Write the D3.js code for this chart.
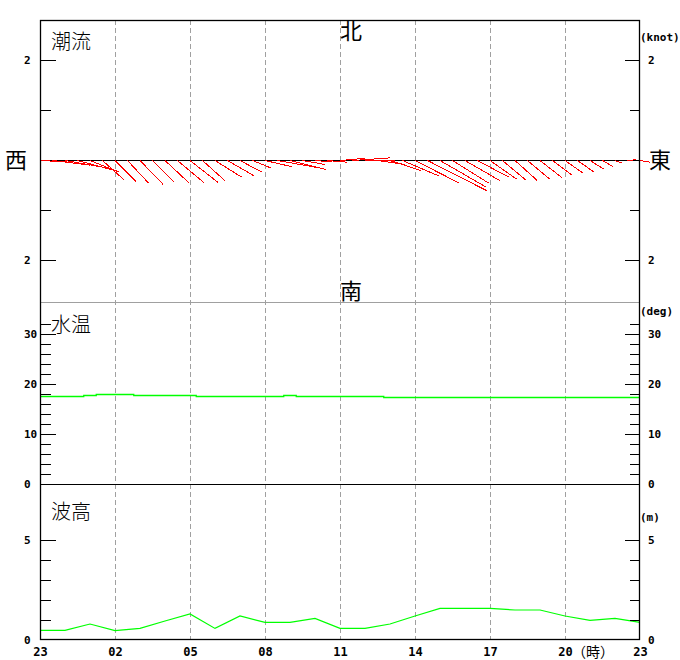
<!DOCTYPE html>
<html><head><meta charset="utf-8">
<script src="https://cdn.jsdelivr.net/npm/d3@7"></script>
<style>
body{margin:0;background:#fff;}
svg{display:block;}
.num{font-family:"DejaVu Sans Mono",monospace;font-weight:bold;font-size:11px;fill:#000;}
.jp{font-family:"Noto Sans CJK JP",sans-serif;fill:#000;}
</style></head>
<body>
<script>
// ---- data ----
const hourLabels = ["23","02","05","08","11","14","17","20","23"];
// current, every 30 min from 23:00 (direction flowing toward, deg true; speed knots)
const curDir = [93,97,100,105,112,132,135,137,136,135,133,130,128,132,122,120,118,112,103,100,104,100,95,95,85,86,90,98,108,113,117,117,120,122,120,118,125,130,132,130,128,127,125,125,122,120,110,85,100];
const curSpeed = [0.55,0.75,0.85,0.85,0.6,0.58,0.6,0.62,0.66,0.62,0.65,0.7,0.72,0.62,0.62,0.62,0.5,0.4,0.55,0.8,0.75,0.45,0.35,0.4,0.5,0.75,0.6,0.55,0.65,0.8,1.0,1.35,1.05,0.85,0.8,0.7,0.65,0.6,0.6,0.58,0.55,0.5,0.45,0.4,0.32,0.25,0.15,0.18,0.2];
// water temperature, every 30 min (deg C)
const waterTemp = [17.5,17.5,17.5,17.5,17.7,17.9,17.9,17.9,17.7,17.7,17.7,17.7,17.7,17.5,17.5,17.5,17.5,17.5,17.5,17.5,17.7,17.5,17.5,17.5,17.5,17.5,17.5,17.5,17.3,17.3,17.3,17.3,17.3,17.3,17.3,17.3,17.3,17.3,17.3,17.3,17.3,17.3,17.3,17.3,17.3,17.3,17.3,17.3,17.3];
// wave height, hourly (m)
const waveHeight = [0.48,0.48,0.8,0.47,0.58,0.95,1.3,0.58,1.2,0.88,0.88,1.08,0.58,0.58,0.8,1.2,1.58,1.58,1.58,1.5,1.5,1.2,0.98,1.08,0.88];

const half = d3.range(curDir.length).map(i => i*0.5);
const hourly = d3.range(waveHeight.length);

const W=680,H=660, L=40, R=640, T=20, B=640;
const svg = d3.select("body").append("svg").attr("width",W).attr("height",H);

const x = d3.scaleLinear().domain([0,24]).range([L,R]);
const yCur = d3.scaleLinear().domain([-2,2]).range([260,60]);
const yTmp = d3.scaleLinear().domain([0,30]).range([484,334]);
const yWav = d3.scaleLinear().domain([0,5]).range([640,540]);

const gray="#a0a0a0";

// vertical dashed grid
svg.append("g").selectAll("line").data(d3.range(3,24,3)).join("line")
  .attr("x1",d=>x(d)+0.5).attr("x2",d=>x(d)+0.5).attr("y1",T).attr("y2",B)
  .attr("stroke",gray).attr("stroke-dasharray","5,3").attr("shape-rendering","crispEdges");

// separators
svg.append("line").attr("x1",L).attr("x2",R).attr("y1",302.5).attr("y2",302.5).attr("stroke",gray).attr("shape-rendering","crispEdges");
svg.append("line").attr("x1",L).attr("x2",R).attr("y1",484.5).attr("y2",484.5).attr("stroke","#000").attr("shape-rendering","crispEdges");

// current baseline
svg.append("line").attr("x1",L).attr("x2",R).attr("y1",yCur(0)+0.5).attr("y2",yCur(0)+0.5).attr("stroke","#000").attr("shape-rendering","crispEdges");

// current vectors
const k = yCur(0)-yCur(1);
svg.append("g").selectAll("line").data(half).join("line")
  .attr("x1",(d)=>x(d)).attr("y1",yCur(0)+0.5)
  .attr("x2",(d,i)=>x(d)+curSpeed[i]*k*Math.sin(curDir[i]*Math.PI/180))
  .attr("y2",(d,i)=>yCur(0)+0.5-curSpeed[i]*k*Math.cos(curDir[i]*Math.PI/180))
  .attr("stroke","#ff0000").attr("stroke-width",1).attr("shape-rendering","crispEdges");

// temperature line
svg.append("path").datum(waterTemp)
  .attr("d",d3.line().x((d,i)=>x(half[i])).y(d=>yTmp(d)).curve(d3.curveStep))
  .attr("fill","none").attr("stroke","#00ff00").attr("stroke-width",1.3);

// wave line
svg.append("path").datum(waveHeight)
  .attr("d",d3.line().x((d,i)=>x(hourly[i])).y(d=>yWav(d)))
  .attr("fill","none").attr("stroke","#00ff00").attr("stroke-width",1.2);

// frame
svg.append("rect").attr("x",L+0.5).attr("y",T+0.5).attr("width",R-L-1).attr("height",B-T-1)
  .attr("fill","none").attr("stroke","#000").attr("stroke-width",1.3);

// axes helper
function sideAxes(scale, major, minor, fmt){
  const gl = svg.append("g").attr("transform",`translate(${L},0)`);
  gl.call(d3.axisRight(scale).tickValues(minor).tickSize(11).tickFormat(""));
  gl.call(g=>g.select(".domain").remove());
  const gl2 = svg.append("g").attr("transform",`translate(${L},0)`);
  gl2.call(d3.axisRight(scale).tickValues(major).tickSize(16).tickFormat(fmt));
  gl2.select(".domain").remove();
  gl2.selectAll("text").attr("class","num").attr("x",-16).attr("text-anchor","start").attr("dy","0.35em").attr("font-size",null).attr("font-family",null);
  const gr = svg.append("g").attr("transform",`translate(${R},0)`);
  gr.call(d3.axisLeft(scale).tickValues(minor).tickSize(10).tickFormat(""));
  gr.select(".domain").remove();
  const gr2 = svg.append("g").attr("transform",`translate(${R},0)`);
  gr2.call(d3.axisLeft(scale).tickValues(major).tickSize(15).tickFormat(fmt));
  gr2.select(".domain").remove();
  gr2.selectAll("text").attr("class","num").attr("x",8).attr("text-anchor","start").attr("dy","0.35em").attr("font-size",null).attr("font-family",null);
  svg.selectAll(".tick line").attr("stroke","#000").attr("shape-rendering","crispEdges");
}
sideAxes(yCur,[2,-2],[1,-1],d=>Math.abs(d));
sideAxes(yTmp,[10,20,30],d3.range(2,33,2).filter(v=>v%10!==0),d=>d);
svg.append("text").attr("class","num").attr("x",24).attr("y",yTmp(0)).attr("dy","0.35em").text("0");
svg.append("text").attr("class","num").attr("x",648).attr("y",yTmp(0)).attr("dy","0.35em").text("0");
sideAxes(yWav,[5],[1,2,3,4],d=>d);
svg.append("text").attr("class","num").attr("x",24).attr("y",yWav(0)).attr("dy","0.35em").text("0");
svg.append("text").attr("class","num").attr("x",648).attr("y",yWav(0)).attr("dy","0.35em").text("0");

// x labels
const gx = svg.append("g").attr("transform",`translate(0,${B})`)
  .call(d3.axisBottom(x).tickValues(d3.range(0,25,3)).tickSize(0).tickFormat((d,i)=>hourLabels[i]));
gx.select(".domain").remove();
gx.selectAll("text").attr("class","num").attr("font-size",null).attr("font-family",null).style("font-size","12px").attr("y",12).attr("dy","0.35em");
svg.append("text").attr("class","jp").attr("x",572).attr("y",652).attr("dy","0.35em").style("font-size","14px").text("（時）");

// unit labels
svg.append("text").attr("class","num").attr("x",640).attr("y",37).attr("dy","0.35em").text("(knot)");
svg.append("text").attr("class","num").attr("x",640).attr("y",311).attr("dy","0.35em").text("(deg)");
svg.append("text").attr("class","num").attr("x",640).attr("y",517).attr("dy","0.35em").text("(m)");

// panel titles
const jp = (t,xx,yy,s,anchor,w)=>svg.append("text").attr("class","jp").attr("x",xx).attr("y",yy)
  .attr("dy","0.36em").attr("text-anchor",anchor||"start").style("font-size",s+"px").style("font-weight",w||400).text(t);
jp("潮流",51,42,20,"start",300);
jp("水温",51,325,20,"start",300);
jp("波高",51,512,20,"start",300);
jp("北",351,31,22,"middle");
jp("南",351,291,22,"middle");
jp("西",16,160,22,"middle");
jp("東",660,160,22,"middle");
</script>
</body></html>
